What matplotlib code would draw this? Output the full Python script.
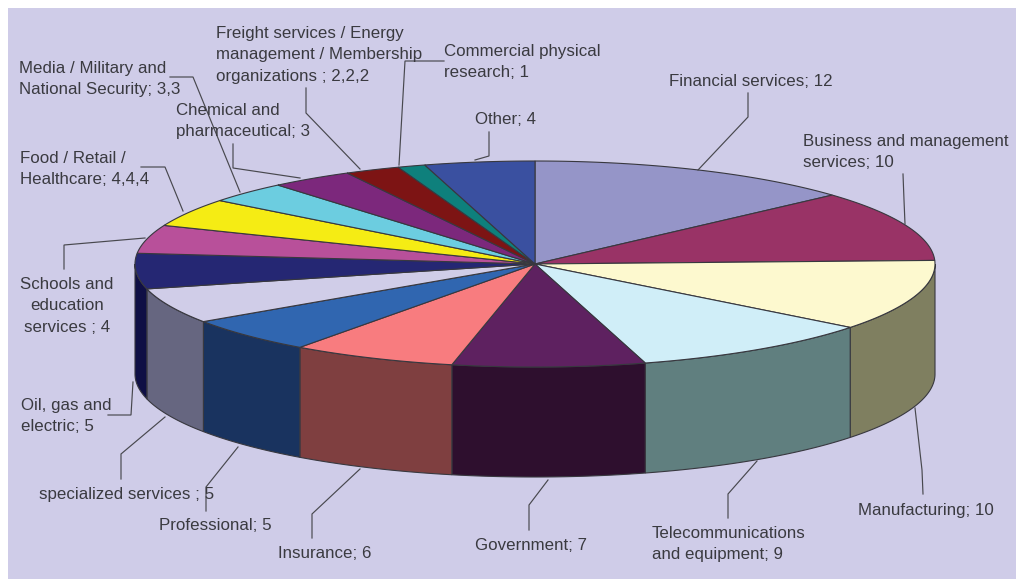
import numpy as np
import matplotlib
matplotlib.use("Agg")
import matplotlib.pyplot as plt
from matplotlib.patches import Polygon, Rectangle

# Data: slices clockwise from 12 o'clock
slice_names = ["Financial services", "Business and management services", "Manufacturing",
               "Telecommunications and equipment", "Government", "Insurance", "Professional",
               "specialized services", "Oil, gas and electric", "Schools and education services",
               "Food / Retail / Healthcare", "Media / Military and National Security",
               "Chemical and pharmaceutical", "Freight / Energy / Membership",
               "Commercial physical research", "Other"]
slice_values = [12, 10, 10, 9, 7, 6, 5, 5, 5, 4, 4, 3, 3, 2, 1, 4]

# Labels as printed
label_texts = ["Financial services; 12", "Business and management\nservices; 10", "Manufacturing; 10",
               "Telecommunications\nand equipment; 9", "Government; 7", "Insurance; 6", "Professional; 5",
               "specialized services ; 5", "Oil, gas and\nelectric; 5", "Schools and\neducation\nservices ; 4",
               "Food / Retail /\nHealthcare; 4,4,4", "Media / Military and\nNational Security; 3,3",
               "Chemical and\npharmaceutical; 3",
               "Freight services / Energy\nmanagement / Membership\norganizations ; 2,2,2",
               "Commercial physical\nresearch; 1", "Other; 4"]

# Styles
top_colors = ["#9595c8", "#993366", "#fdf9cf", "#d0eef8", "#5e2160", "#f87c7f", "#3066b0", "#d0cde8",
              "#252773", "#b8509a", "#f5ec14", "#6ccde0", "#7c287c", "#7d1414", "#0e807c", "#3a50a0"]
wall_colors = ["#5a5a80", "#5c1f3d", "#7f7f60", "#607f7f", "#2e0f2e", "#7f3f40", "#19335f", "#666680",
               "#0f0f45", "#6e305c", "#938e0c", "#417b86", "#4a184a", "#4b0c0c", "#084d4a", "#233060"]
BG = "#cfcce8"
EDGE = "#38383f"
TEXT = "#3a3a40"
FS = 12.15

# Layout (pixels)
CX, CY, RX, RY, DEPTH = 535, 264, 400, 103, 110
label_pos = [(669, 82, "left"), (803, 152, "left"), (858, 510, "left"), (652, 544, "left"),
             (475, 546, "left"), (278, 553, "left"), (159, 526, "left"), (39, 494, "left"),
             (21, 416, "left"), (67, 306, "center"), (20, 169, "left"), (19, 79, "left"),
             (176, 121, "left"), (216, 55, "left"), (444, 62, "left"), (475, 120, "left")]
leaders = [[(748, 93), (748, 117), (698, 170)], [(903, 174), (904, 200), (905, 224)],
           [(923, 494), (922, 470), (915, 408)], [(728, 518), (728, 494), (757, 461)],
           [(529, 530), (529, 505), (548, 480)], [(312, 538), (312, 514), (360, 469)],
           [(206, 511), (206, 487), (238, 447)], [(121, 479), (121, 454), (165, 417)],
           [(108, 415), (131, 415), (133, 382)], [(64, 269), (64, 245), (145, 238)],
           [(141, 167), (165, 167), (183, 211)], [(170, 77), (193, 77), (240, 192)],
           [(233, 144), (233, 168), (300, 178)], [(306, 88), (306, 113), (360, 169)],
           [(444, 61), (405, 61), (399, 165)], [(489, 132), (489, 156), (475, 160)]]

plt.rcParams["font.family"] = ["Liberation Sans", "DejaVu Sans"]
fig = plt.figure(figsize=(10.16, 5.79), dpi=100, facecolor="white")
ax = fig.add_axes([0, 0, 1, 1])
ax.set_xlim(0, 1016)
ax.set_ylim(579, 0)
ax.axis("off")
ax.add_patch(Rectangle((8, 8), 1008, 571, facecolor=BG, edgecolor="none", zorder=0))


def ellipse(t_deg, dy=0.0):
    t = np.radians(t_deg)
    return np.column_stack([CX + RX * np.sin(t), CY - RY * np.cos(t) + dy])


edges = np.cumsum([0] + slice_values) / sum(slice_values) * 360

# Side walls (visible only on the front half)
for i in range(len(slice_values)):
    a, b = max(edges[i], 90), min(edges[i + 1], 270)
    if a >= b:
        continue
    arc = np.linspace(a, b, 60)
    pts = np.vstack([ellipse(arc), ellipse(arc[::-1], DEPTH)])
    ax.add_patch(Polygon(pts, closed=True, facecolor=wall_colors[i], edgecolor=EDGE, lw=0.8, zorder=2))

# Top face
for i in range(len(slice_values)):
    arc = np.linspace(edges[i], edges[i + 1], 80)
    pts = np.vstack([[CX, CY], ellipse(arc)])
    ax.add_patch(Polygon(pts, closed=True, facecolor=top_colors[i], edgecolor=EDGE, lw=0.8, zorder=3))

# Leaders and labels
for line in leaders:
    xs, ys = zip(*line)
    ax.plot(xs, ys, color="#48484e", lw=0.85, zorder=4, solid_joinstyle="miter")
for txt, (x, y, ha) in zip(label_texts, label_pos):
    ax.text(x, y, txt, ha=ha, va="center", fontsize=FS, color=TEXT, linespacing=1.52,
            multialignment=ha, zorder=5)

fig.savefig("out.png", dpi=100, facecolor="white")
